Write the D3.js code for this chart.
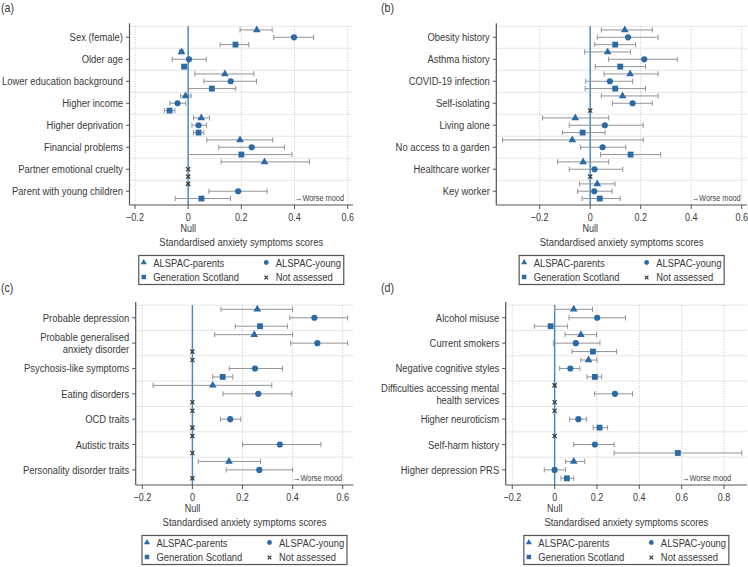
<!DOCTYPE html>
<html>
<head>
<meta charset="utf-8">
<script src="https://cdn.jsdelivr.net/npm/d3@7/dist/d3.min.js"></script>
<style>
  body { margin: 0; background: #fff; }
  svg { display: block; font-family: "Liberation Sans", Arial, sans-serif; }
</style>
</head>
<body>
<svg id="chart" width="748" height="567"></svg>
<script>
// ---- data: [estimate, lower CI, upper CI], null = not assessed ----
const seriesNames = ["ALSPAC-parents", "ALSPAC-young", "Generation Scotland"];

const catsA = ["Sex (female)", "Older age", "Lower education background", "Higher income",
  "Higher deprivation", "Financial problems", "Partner emotional cruelty", "Parent with young children"];
const parentsA = [[0.258, 0.195, 0.316], [-0.025, -0.033, -0.018], [0.138, 0.025, 0.247], [-0.010, -0.029, 0.011],
  [0.049, 0.020, 0.080], [0.195, 0.070, 0.318], [0.287, 0.124, 0.456], null];
const youngA = [[0.398, 0.322, 0.472], [0.003, -0.060, 0.068], [0.160, 0.059, 0.257], [-0.040, -0.069, -0.009],
  [0.039, 0.014, 0.069], [0.239, 0.115, 0.362], null, [0.188, 0.078, 0.297]];
const gsA = [[0.178, 0.120, 0.228], [-0.015, -0.023, -0.008], [0.089, 0.000, 0.179], [-0.070, -0.090, -0.050],
  [0.039, 0.020, 0.059], [0.200, 0.000, 0.390], null, [0.050, -0.049, 0.159]];

const catsB = ["Obesity history", "Asthma history", "COVID-19 infection", "Self-isolating",
  "Living alone", "No access to a garden", "Healthcare worker", "Key worker"];
const parentsB = [[0.137, 0.044, 0.246], [0.069, -0.022, 0.160], [0.158, 0.055, 0.269], [0.128, 0.044, 0.269],
  [-0.059, -0.189, 0.073], [-0.071, -0.347, 0.210], [-0.028, -0.129, 0.073], [0.028, -0.042, 0.098]];
const youngB = [[0.150, 0.028, 0.269], [0.214, 0.073, 0.345], [0.078, -0.018, 0.168], [0.168, 0.088, 0.246],
  [0.058, -0.083, 0.210], [0.049, -0.038, 0.141], [0.017, -0.083, 0.129], [0.016, -0.050, 0.087]];
const gsB = [[0.099, 0.018, 0.180], [0.119, 0.020, 0.219], [0.099, -0.020, 0.219], null,
  [-0.030, -0.110, 0.059], [0.160, 0.041, 0.279], null, [0.038, -0.032, 0.119]];

const catsC = ["Probable depression", "Probable generalised\nanxiety disorder", "Psychosis-like symptoms",
  "Eating disorders", "OCD traits", "Autistic traits", "Personality disorder traits"];
const parentsC = [[0.259, 0.114, 0.400], [0.247, 0.089, 0.400], null, [0.081, -0.157, 0.317], null, null, [0.146, 0.023, 0.272]];
const youngC = [[0.487, 0.389, 0.620], [0.499, 0.392, 0.620], [0.250, 0.147, 0.360], [0.263, 0.122, 0.397],
  [0.151, 0.112, 0.193], [0.349, 0.200, 0.513], [0.267, 0.135, 0.400]];
const gsC = [[0.270, 0.171, 0.380], null, [0.121, 0.081, 0.161], null, null, null, null];

const catsD = ["Alcohol misuse", "Current smokers", "Negative cognitive styles",
  "Difficulties accessing mental\nhealth services", "Higher neuroticism", "Self-harm history", "Higher depression PRS"];
const parentsD = [[0.090, 0.000, 0.179], [0.124, 0.049, 0.198], [0.160, 0.124, 0.200], null, null, null, [0.090, 0.052, 0.142]];
const youngD = [[0.201, 0.068, 0.335], [0.100, -0.006, 0.214], [0.074, 0.024, 0.119], [0.285, 0.189, 0.368],
  [0.112, 0.071, 0.151], [0.190, 0.090, 0.281], [0.000, -0.049, 0.052]];
const gsD = [[-0.019, -0.096, 0.061], [0.181, 0.082, 0.292], [0.190, 0.153, 0.222], null,
  [0.212, 0.182, 0.250], [0.582, 0.281, 0.884], [0.058, 0.030, 0.090]];

const ticksABC = [-0.2, 0, 0.2, 0.4, 0.6];
const ticksD = [-0.2, 0, 0.2, 0.4, 0.6, 0.8];
const axisTitle = "Standardised anxiety symptoms scores";
const legendItems = [["ALSPAC-parents", 0], ["ALSPAC-young", 1], ["Generation Scotland", 2], ["Not assessed", 3]];

// ---- style ----
const BLUE = "#2c6aa6", NULLBLUE = "#3d87c7", TXT = "#3a3a3a", AXIS = "#555", BAR = "#939393";
const SX = 0.82;   // the original face is narrow; squeeze Liberation Sans horizontally
const symbols = [d3.symbolTriangle, d3.symbolCircle, d3.symbolSquare];
const symSize = [26, 30, 34];

const svg = d3.select("#chart");

// panels: layout only
const panels = [
  { tag: "(a)", cats: catsA, series: [parentsA, youngA, gsA], ticks: ticksABC,
    ox: 0, oy: 0, tx: [135, 347.7], left: 129.5, right: 353, top: 26.3, step: 7.33, axisY: 205, worseAt: 0.4 },
  { tag: "(b)", cats: catsB, series: [parentsB, youngB, gsB], ticks: ticksABC,
    ox: 374, oy: 0, tx: [539.7, 741.7], left: 496.3, right: 747, top: 26.3, step: 7.33, axisY: 205, worseAt: 0.4 },
  { tag: "(c)", cats: catsC, series: [parentsC, youngC, gsC], ticks: ticksABC,
    ox: 0, oy: 280, tx: [142.3, 342.7], left: 135.7, right: 353.3, top: 305.1, step: 8.45, axisY: 485, worseAt: 0.4 },
  { tag: "(d)", cats: catsD, series: [parentsD, youngD, gsD], ticks: ticksD,
    ox: 374, oy: 280, tx: [512.3, 724], left: 505.7, right: 747, top: 305.1, step: 8.45, axisY: 485, worseAt: 0.6 }
];

function label(sel, x, y, str, size, anchor = "start", fill = TXT) {
  return sel.append("text")
    .attr("transform", `translate(${x},${y}) scale(${SX},1)`)
    .attr("text-anchor", anchor).attr("font-size", size).attr("fill", fill)
    .text(str);
}

function drawMarker(sel, kind, size, x, y) {
  if (kind === 3) {
    const h = size;
    sel.append("path")
      .attr("d", `M${x - h},${y - h}L${x + h},${y + h}M${x - h},${y + h}L${x + h},${y - h}`)
      .attr("stroke", "#333").attr("stroke-width", 1.2).attr("fill", "none");
  } else {
    sel.append("path")
      .attr("d", d3.symbol().type(symbols[kind]).size(size)())
      .attr("transform", `translate(${x},${y})`)
      .attr("fill", BLUE);
  }
}

panels.forEach(p => {
  const g = svg.append("g");
  const x = d3.scaleLinear().domain([p.ticks[0], p.ticks[p.ticks.length - 1]]).range(p.tx);
  const nRows = p.cats.length * 3;
  const y = d3.scaleBand().domain(d3.range(nRows)).range([p.top, p.top + nRows * p.step]);
  const yc = i => y(i) + y.bandwidth() / 2;

  // panel tag
  label(g, p.ox + (p.ox ? 7 : 1), p.oy + 12, p.tag, 13);

  // horizontal separators between categories
  g.selectAll(".hsep").data(d3.range(p.cats.length)).join("line")
    .attr("x1", p.left).attr("x2", p.right)
    .attr("y1", i => y(i * 3)).attr("y2", i => y(i * 3))
    .attr("stroke", "#e6e6e6").attr("stroke-width", 1);

  // vertical dotted grid
  g.selectAll(".vgrid").data(p.ticks).join("line")
    .attr("x1", d => x(d)).attr("x2", d => x(d))
    .attr("y1", p.top).attr("y2", p.axisY)
    .attr("stroke", "#b8b8b8").attr("stroke-width", 0.8).attr("stroke-dasharray", "1,1.6");

  // null line
  g.append("line").attr("x1", x(0)).attr("x2", x(0)).attr("y1", p.top).attr("y2", p.axisY)
    .attr("stroke", NULLBLUE).attr("stroke-width", 1.4);

  // points + CIs
  p.series.forEach((ser, s) => {
    ser.forEach((d, c) => {
      const yy = yc(c * 3 + s);
      if (!d) { drawMarker(g, 3, 2.1, x(0), yy); return; }
      const [est, lo, hi] = d;
      g.append("line").attr("x1", x(lo)).attr("x2", x(hi)).attr("y1", yy).attr("y2", yy)
        .attr("stroke", BAR).attr("stroke-width", 1);
      [lo, hi].forEach(v => g.append("line").attr("x1", x(v)).attr("x2", x(v))
        .attr("y1", yy - 2.6).attr("y2", yy + 2.6).attr("stroke", BAR).attr("stroke-width", 1));
      drawMarker(g, s, symSize[s], x(est), yy);
    });
  });

  // axes
  g.append("line").attr("x1", p.left).attr("x2", p.left).attr("y1", p.top - 3).attr("y2", p.axisY)
    .attr("stroke", AXIS).attr("stroke-width", 1.2);
  g.append("line").attr("x1", p.left).attr("x2", p.right).attr("y1", p.axisY).attr("y2", p.axisY)
    .attr("stroke", AXIS).attr("stroke-width", 1.2);

  p.ticks.forEach(d => {
    g.append("line").attr("x1", x(d)).attr("x2", x(d)).attr("y1", p.axisY).attr("y2", p.axisY + 4)
      .attr("stroke", AXIS).attr("stroke-width", 1);
    label(g, x(d), p.axisY + 16.2, d === 0 ? "0" : d3.format(".1f")(d), 11, "middle");
  });
  label(g, x(0), p.axisY + 27, "Null", 11, "middle");

  // category labels
  p.cats.forEach((cat, c) => {
    const yy = yc(c * 3 + 1);
    g.append("line").attr("x1", p.left - 3.5).attr("x2", p.left).attr("y1", yy).attr("y2", yy)
      .attr("stroke", AXIS).attr("stroke-width", 1);
    const lines = cat.split("\n");
    lines.forEach((ln, k) => {
      label(g, p.left - 6.5, yy + 4 + (k - (lines.length - 1) / 2) * 11.7, ln, 11.5, "end");
    });
  });

  // worse mood note
  label(g, x(p.worseAt) + 0.5, p.axisY - 4, "\u2192Worse mood", 9, "start", "#444");

  // axis title
  const cx = (p.left + p.right) / 2;
  label(g, cx, p.axisY + 40.5, axisTitle, 11.5, "middle");

  // legend
  const lw = 205, lh = 29, lx = cx - lw / 2, ly = p.axisY + 50.5;
  g.append("rect").attr("x", lx).attr("y", ly).attr("width", lw).attr("height", lh)
    .attr("fill", "none").attr("stroke", "#555").attr("stroke-width", 1.2);
  legendItems.forEach(([name, k], i) => {
    const col = i % 2, row = Math.floor(i / 2);
    const mx = lx + 5 + col * 122.5, my = ly + 7 + row * 14.5;
    if (k === 3) drawMarker(g, 3, 1.8, mx, my + 0.5);
    else drawMarker(g, k, [16, 18, 20][k], mx, my);
    label(g, mx + 9.5, my + 4, name, 11.5);
  });
});
</script>
</body>
</html>
